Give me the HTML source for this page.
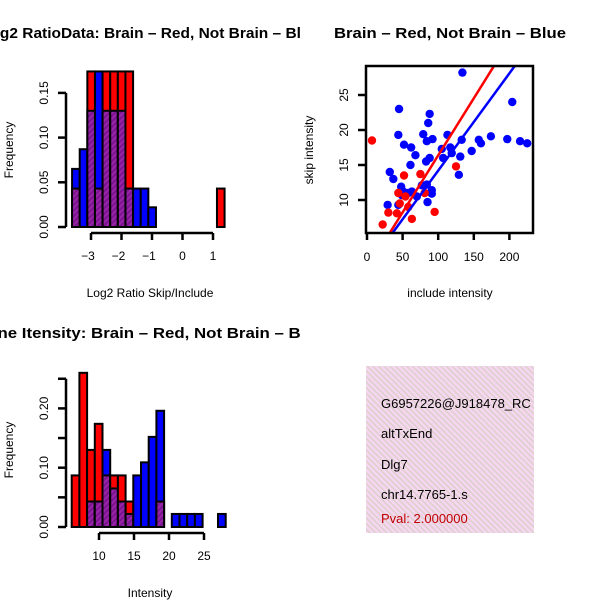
<!DOCTYPE html>
<html><head><meta charset="utf-8"><style>
html,body{margin:0;padding:0;background:#fff;}
svg{display:block;font-family:"Liberation Sans",sans-serif;}
</style></head><body>
<svg id="fig" width="600" height="600" viewBox="0 0 600 600">
<defs>
<pattern id="purp" width="4" height="4" patternUnits="userSpaceOnUse" patternTransform="rotate(45)">
<rect width="4" height="4" fill="#9b23a8"/><rect width="2" height="4" fill="#7a1590"/></pattern>
<pattern id="pink" width="4" height="4" patternUnits="userSpaceOnUse" patternTransform="rotate(-45)">
<rect width="4" height="4" fill="#f6d6f0"/><rect width="1.5" height="4" fill="#dcd0cc"/></pattern>
<clipPath id="cl"><rect x="0" y="0" width="300" height="600"/></clipPath>
<clipPath id="cr"><rect x="300" y="0" width="300" height="600"/></clipPath>
<clipPath id="box"><rect x="366" y="66" width="167" height="167"/></clipPath>
<clipPath id="infoclip"><rect x="366" y="366" width="168" height="167"/></clipPath>
</defs>
<g id="p1"></g>
<g id="p2"></g>
<g id="p3"></g>
<g id="p4">
<rect x="366" y="366" width="168" height="167" fill="url(#pink)"/>
<g clip-path="url(#infoclip)" font-size="13">
<text x="381" y="408">G6957226@J918478_RC</text>
<text x="381" y="438">altTxEnd</text>
<text x="381" y="469">Dlg7</text>
<text x="381" y="499">chr14.7765-1.s</text>
<text x="381" y="523" fill="#c00000">Pval: 2.000000</text>
</g></g>
</svg>
<script>
// ---- histogram 1 data ----
const ratioBinStart = -3.62;
const ratioBinWidth = 0.25;
const ratioRed  = [0.043,0,0.174,0.043,0.174,0.174,0.174,0.174,0,0,0,0,0,0,0,0,0,0,0,0.043];
const ratioBlue = [0.065,0.087,0.13,0.174,0.13,0.13,0.13,0.043,0.043,0.043,0.022,0,0,0,0,0,0,0,0,0];
const ratioXTicks = [-3,-2,-1,0,1];
const ratioYTicks = [0,0.05,0.10,0.15];
// ---- histogram 2 data ----
const intBinStart = 6.1;
const intBinWidth = 1.1;
const intRed  = [0.087,0.26,0.13,0.174,0.087,0.087,0.087,0.043,0,0,0,0.043,0,0,0,0,0,0,0,0];
const intBlue = [0,0,0.043,0.043,0.13,0.065,0.043,0.022,0.087,0.109,0.152,0.196,0,0.022,0.022,0.022,0.022,0,0,0.022];
const intXTicks = [10,15,20,25];
const intYTicks = [0,0.05,0.10,0.15,0.20,0.25];
const intYLabels = ["0.00","","0.10","","0.20",""];
// ---- scatter data ----
const blueX = [134,204,45,88,86,44,79,113,92,84,133,157,160,174,197,215,225,52,62,68,88,83,61,105,117,119,107,131,147,32,37,129,48,51,58,77,84,91,91,85,29,44,49,63,70];
const blueY = [28.2,24,23,22.3,21,19.3,19.4,19.3,18.7,18.4,18.6,18.6,18.1,19.1,18.7,18.4,18.1,17.9,17.5,16.4,16,15.5,15,17.3,17.5,16.7,16,16.2,17,14,13,13.6,11.9,11.2,11,12.1,12.2,11.4,10.9,9.7,9.3,9.3,10.7,11.2,10.5];
const redX = [7,125,52,75,44,54,30,42,95,63,22,46,58,81];
const redY = [18.5,14.8,13.5,13.7,11,10.5,8.2,8.1,8.3,7.3,6.5,9.5,9,11];
const fitIntercept = [0.08,0.3];   // red, blue
const fitSlope = [0.163,0.139];
const scXTicks = [0,50,100,150,200];
const scYTicks = [10,15,20,25];

const NS="http://www.w3.org/2000/svg";
function mk(parent,tag,attrs,text){const e=document.createElementNS(NS,tag);for(const k in attrs)e.setAttribute(k,attrs[k]);if(text!==undefined)e.textContent=text;parent.appendChild(e);return e;}

function histogram(g,clip,red,blue,start,width,sx,sy,xTicks,yTicks,yLabels,axisY){
  const gg=mk(g,'g',{'clip-path':'url(#'+clip+')'});
  for(let i=0;i<red.length;i++){
    const x0=sx(start+i*width), x1=sx(start+(i+1)*width);
    const r=red[i], b=blue[i], mx=Math.max(r,b), mn=Math.min(r,b);
    if(mx>0){
      const rc=mk(gg,'rect',{x:x0,y:sy(mx),width:x1-x0,height:sy(0)-sy(mx),fill:r>=b?'#ff0000':'#0000ff',stroke:'#000','stroke-width':2});
      
      
    }
    if(mn>0){
      const pc=mk(gg,'rect',{x:x0,y:sy(mn),width:x1-x0,height:sy(0)-sy(mn),fill:'url(#purp)',stroke:'#000','stroke-width':2});
      
      
    }
  }
  const ya=mk(g,'g',{});
  
  
  mk(ya,'line',{x1:66,x2:66,y1:sy(yTicks[0]),y2:sy(yTicks[yTicks.length-1]),stroke:'#000','stroke-width':2.5});
  yTicks.forEach((v,i)=>{
    mk(ya,'line',{x1:58,x2:66,y1:sy(v),y2:sy(v),stroke:'#000','stroke-width':2.5});
    const lab=yLabels?yLabels[i]:v.toFixed(2);
    if(lab){const t=mk(ya,'text',{x:0,y:0,'font-size':12,'text-anchor':'middle',transform:`translate(48,${sy(v)}) rotate(-90)`},lab);
      }
  });
  const xa=mk(g,'g',{});
  
  
  mk(xa,'line',{x1:sx(xTicks[0]),x2:sx(xTicks[xTicks.length-1]),y1:axisY,y2:axisY,stroke:'#000','stroke-width':2.5});
  xTicks.forEach(v=>{
    mk(xa,'line',{x1:sx(v),x2:sx(v),y1:axisY,y2:axisY+7,stroke:'#000','stroke-width':2.5});
    const t=mk(xa,'text',{x:sx(v)+(v<0?-3:0),y:axisY+27,'font-size':12,'text-anchor':'middle'},v<0?'\u2212'+Math.abs(v):String(v));
    
  });
}

// Panel 1
const p1=document.getElementById('p1');
const sx1=v=>91+(v+3)*30.5, sy1=v=>227-v*894;
histogram(p1,'cl',ratioRed,ratioBlue,ratioBinStart,ratioBinWidth,sx1,sy1,ratioXTicks,ratioYTicks,null,233);
let t;
t=mk(p1,'text',{x:150,y:38,'font-size':14.5,'font-weight':'bold','text-anchor':'middle','clip-path':'url(#cl)',textLength:338,lengthAdjust:'spacingAndGlyphs'},'Log2 RatioData: Brain \u2013 Red, Not Brain \u2013 Blue');

t=mk(p1,'text',{x:150,y:297,'font-size':12,'text-anchor':'middle'},'Log2 Ratio Skip/Include');

t=mk(p1,'text',{x:0,y:0,'font-size':12,'text-anchor':'middle',transform:'translate(13,150) rotate(-90)'},'Frequency');


// Panel 3
const p3=document.getElementById('p3');
const sx3=v=>99+(v-10)*7, sy3=v=>527-v*593;
histogram(p3,'cl',intRed,intBlue,intBinStart,intBinWidth,sx3,sy3,intXTicks,intYTicks,intYLabels,533);
t=mk(p3,'text',{x:150,y:338,'font-size':14.5,'font-weight':'bold','text-anchor':'middle','clip-path':'url(#cl)',textLength:350,lengthAdjust:'spacingAndGlyphs'},'Gene Itensity: Brain \u2013 Red, Not Brain \u2013 Blue');

t=mk(p3,'text',{x:150,y:597,'font-size':12,'text-anchor':'middle'},'Intensity');

t=mk(p3,'text',{x:0,y:0,'font-size':12,'text-anchor':'middle',transform:'translate(13,450) rotate(-90)'},'Frequency');


// Panel 2 scatter
const p2=document.getElementById('p2');
const sx2=v=>367+v*0.712, sy2=v=>200-(v-10)*7;
const pts=mk(p2,'g',{'clip-path':'url(#box)'});
for(let i=0;i<blueX.length;i++){
  const c=mk(pts,'circle',{cx:sx2(blueX[i]),cy:sy2(blueY[i]),r:4.2,fill:'#0000ff'});
  
  
}
for(let i=0;i<redX.length;i++){
  const c=mk(pts,'circle',{cx:sx2(redX[i]),cy:sy2(redY[i]),r:4.2,fill:'#ff0000'});
  
  
}
['#ff0000','#0000ff'].forEach((col,i)=>{
  const xa=-10, xb=240;
  const l=mk(pts,'line',{x1:sx2(xa),y1:sy2(fitIntercept[i]+fitSlope[i]*xa),x2:sx2(xb),y2:sy2(fitIntercept[i]+fitSlope[i]*xb),stroke:col,'stroke-width':2.5});
  
  
});
const fr=mk(p2,'rect',{x:366,y:66,width:167,height:167,fill:'none',stroke:'#000','stroke-width':2.5});

scXTicks.forEach(v=>{
  mk(p2,'line',{x1:sx2(v),x2:sx2(v),y1:233,y2:240,stroke:'#000','stroke-width':2.5});
  const tt=mk(p2,'text',{x:sx2(v),y:261,'font-size':12,'text-anchor':'middle'},String(v));
  
});
scYTicks.forEach(v=>{
  mk(p2,'line',{x1:358,x2:366,y1:sy2(v),y2:sy2(v),stroke:'#000','stroke-width':2.5});
  const tt=mk(p2,'text',{x:0,y:0,'font-size':12,'text-anchor':'middle',transform:`translate(348,${sy2(v)}) rotate(-90)`},String(v));
  
});
t=mk(p2,'text',{x:450,y:38,'font-size':14.5,'font-weight':'bold','text-anchor':'middle','clip-path':'url(#cr)',textLength:232,lengthAdjust:'spacingAndGlyphs'},'Brain \u2013 Red, Not Brain \u2013 Blue');

t=mk(p2,'text',{x:450,y:297,'font-size':12,'text-anchor':'middle'},'include intensity');

t=mk(p2,'text',{x:0,y:0,'font-size':12,'text-anchor':'middle',transform:'translate(313,150) rotate(-90)'},'skip intensity');

</script>
</body></html>
